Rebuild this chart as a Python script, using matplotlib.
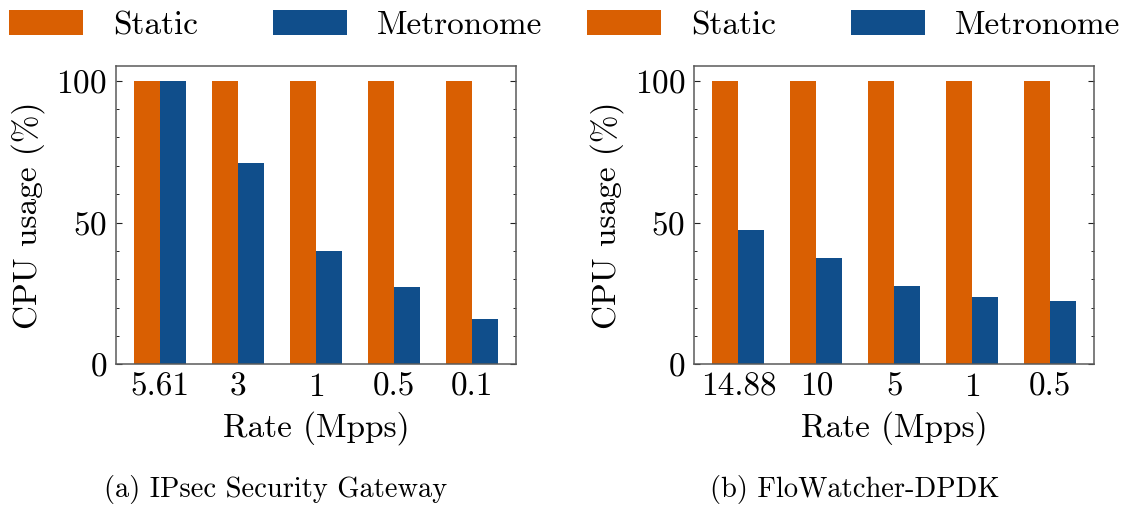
import matplotlib
matplotlib.use("Agg")
import matplotlib.pyplot as plt
from matplotlib.patches import Patch
from matplotlib.ticker import MultipleLocator
import numpy as np

# Data
rates_ipsec = ["5.61", "3", "1", "0.5", "0.1"]
static_ipsec = [100, 100, 100, 100, 100]
metronome_ipsec = [100, 71, 40, 27.3, 16]

rates_flow = ["14.88", "10", "5", "1", "0.5"]
static_flow = [100, 100, 100, 100, 100]
metronome_flow = [47.4, 37.5, 27.6, 23.7, 22.3]

series_labels = ["Static", "Metronome"]
captions = ["(a) IPsec Security Gateway", "(b) FloWatcher-DPDK"]

ORANGE = "#d95f02"
BLUE = "#104e8b"
SPINE = "#5a5a5a"

plt.rcParams["font.family"] = ["cmr10", "DejaVu Serif"]
plt.rcParams["mathtext.fontset"] = "cm"
plt.rcParams["axes.formatter.use_mathtext"] = True
plt.rcParams["axes.unicode_minus"] = False

FS = 24
W, H = 1128, 507
fig = plt.figure(figsize=(W / 100, H / 100), dpi=100)

axes_px = [(116, 66, 400, 298.3), (694.3, 66, 400, 298.3)]
panels = [
    (rates_ipsec, static_ipsec, metronome_ipsec),
    (rates_flow, static_flow, metronome_flow),
]
width = 1 / 3

for i, ((px, py, pw, ph), (rates, st, mt)) in enumerate(zip(axes_px, panels)):
    ax = fig.add_axes([px / W, 1 - (py + ph) / H, pw / W, ph / H])
    x = np.arange(len(rates))
    ax.bar(x - width / 2, st, width, color=ORANGE, linewidth=0)
    ax.bar(x + width / 2, mt, width, color=BLUE, linewidth=0)
    ax.set_ylim(0, 105.2)
    ax.set_xticks(x)
    ax.set_xticklabels(rates)
    ax.yaxis.set_major_locator(MultipleLocator(50))
    ax.yaxis.set_minor_locator(MultipleLocator(10))
    ax.tick_params(axis="y", which="both", direction="in", left=True, right=True,
                   colors="#222222", labelcolor="black", labelsize=FS, pad=6.5)
    ax.tick_params(axis="y", which="major", length=4.5, width=0.8)
    ax.tick_params(axis="y", which="minor", length=2.5, width=0.7)
    ax.tick_params(axis="x", which="both", length=0, labelsize=FS, pad=6)
    for s in ax.spines.values():
        s.set_color(SPINE)
        s.set_linewidth(1.1)
    ax.set_ylabel("CPU usage (%)", fontsize=FS, labelpad=8)
    ax.set_xlabel("Rate (Mpps)", fontsize=FS, labelpad=7)

    # per-panel legend along the top
    handles = [Patch(facecolor=ORANGE, edgecolor="none"),
               Patch(facecolor=BLUE, edgecolor="none")]
    fig.legend(handles, series_labels, loc="upper left",
               bbox_to_anchor=((px - 107) / W, 1 - 10 / H),
               ncol=2, frameon=False, fontsize=FS, borderpad=0,
               borderaxespad=0, handlelength=2.22, handleheight=0.78,
               handletextpad=0.9, columnspacing=2.25)

    # sub-figure caption centred under the panel block
    fig.text((px - 107 + 267) / W, 1 - 490 / H, captions[i], fontsize=20.5,
             ha="center", va="center")

fig.savefig("out.png", dpi=100)
